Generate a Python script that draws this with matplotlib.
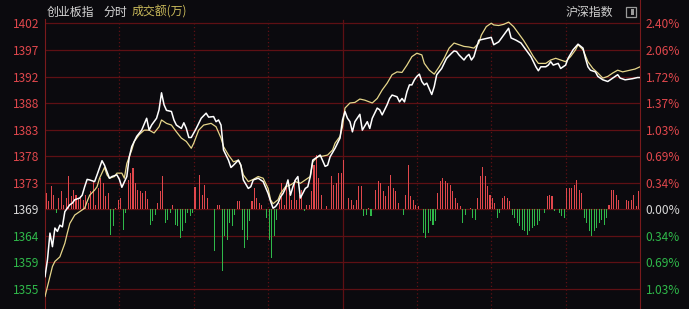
import matplotlib
matplotlib.use("Agg")
import matplotlib.pyplot as plt
import numpy as np
from matplotlib.patches import Rectangle

plt.rcParams["font.family"] = ["Noto Sans CJK SC", "DejaVu Sans"]

# ── data ─────────────────────────────────────────────
prev_close = 1368.8          # 昨收
pct_step = 2.40 / 7          # one grid row, in %

left_labels = ["1355", "1359", "1364", "1369", "1373", "1378",
               "1383", "1388", "1392", "1397", "1402"]
right_labels = ["1.03%", "0.69%", "0.34%", "0.00%", "0.34%", "0.69%",
                "1.03%", "1.37%", "1.72%", "2.06%", "2.40%"]

# 创业板指 (white line): minute, index value
white_min = [0, 1, 2, 3, 4, 5, 6, 7, 8, 10, 11, 12, 14, 15, 16, 17, 18, 20, 21, 23,
             24, 26, 27, 29, 30, 31, 33, 34, 35, 37, 39, 41, 42, 43, 45, 46, 47, 48, 49, 51,
             52, 53, 55, 56, 57, 58, 59, 61, 62, 63, 65, 66, 68, 69, 70, 71, 72, 73, 74, 75,
             76, 78, 79, 80, 82, 83, 84, 86, 87, 88, 90, 91, 92, 93, 94, 95, 96, 97, 98, 99,
             100, 101, 102, 103, 105, 106, 107, 108, 110, 111, 113, 114, 115, 117, 118, 119, 120,
             121, 122, 123, 124, 125, 127, 128, 130, 131, 132, 134, 135, 136, 138, 139, 140,
             142, 143, 144, 145, 146, 147, 148, 149, 150, 151, 152, 153, 154, 156, 157, 158,
             160, 161, 162, 164, 165, 166, 167, 169, 170, 171, 172, 173, 174, 175, 177, 178,
             180, 181, 183, 185, 187, 188, 190, 192, 194, 196, 198, 199, 200, 202, 203, 204,
             205, 207, 208, 210, 211, 213, 215, 217, 218, 219, 220, 222, 223, 225, 227, 229,
             231, 232, 234, 237, 239, 240]
white_val = [1356.9, 1359.9, 1364.6, 1362.2, 1365.5, 1364.9, 1366.0, 1365.7, 1368.4, 1369.6,
             1369.9, 1370.5, 1370.8, 1371.3, 1372.8, 1374.1, 1374.0, 1373.7, 1374.9, 1377.4,
             1376.6, 1374.3, 1374.6, 1374.9, 1374.1, 1372.7, 1374.6, 1378.1, 1379.9, 1381.7,
             1382.8, 1384.9, 1382.8, 1383.7, 1384.9, 1386.4, 1389.4, 1387.3, 1386.3, 1386.1,
             1384.6, 1383.7, 1383.1, 1384.1, 1383.1, 1381.5, 1381.5, 1383.1, 1384.0, 1384.9,
             1385.8, 1385.1, 1385.2, 1384.3, 1384.6, 1383.7, 1379.3, 1378.4, 1377.5, 1376.2,
             1376.6, 1377.5, 1376.6, 1374.0, 1372.5, 1372.8, 1374.0, 1374.3, 1374.0, 1373.7,
             1371.6, 1370.2, 1369.0, 1369.3, 1369.9, 1371.0, 1371.6, 1372.5, 1374.0, 1371.3,
             1372.8, 1374.0, 1374.6, 1370.8, 1372.5, 1372.8, 1374.6, 1377.5, 1378.1, 1378.4,
             1376.4, 1376.6, 1378.1, 1379.6, 1380.5, 1381.4, 1384.6,
             1386.1, 1384.9, 1384.3, 1382.5, 1384.3, 1385.6, 1382.8, 1384.3, 1383.1, 1384.9,
             1386.7, 1386.4, 1385.5, 1387.3, 1388.4, 1389.0,
             1388.7, 1387.8, 1388.4, 1387.8, 1389.6, 1390.8, 1390.8, 1391.7, 1392.3, 1392.7,
             1391.4, 1390.8, 1391.1, 1389.1, 1390.5, 1392.6,
             1393.7, 1394.6, 1395.5, 1396.4, 1396.8, 1396.7, 1396.1, 1395.2, 1395.8, 1396.2,
             1395.2, 1395.8, 1397.3, 1398.7, 1398.9, 1399.0,
             1399.2, 1397.9, 1398.4, 1399.6, 1400.8, 1399.1, 1398.7, 1398.2, 1397.0, 1395.8,
             1394.0, 1393.3, 1394.0, 1394.0, 1394.3, 1394.9,
             1394.3, 1394.6, 1393.7, 1394.3, 1395.5, 1397.0, 1398.0, 1397.3, 1395.5, 1394.0,
             1393.4, 1393.1, 1392.3, 1391.7, 1391.4, 1392.0,
             1392.6, 1392.0, 1391.7, 1391.9, 1392.1, 1392.1]

# 沪深指数 / leading line (yellow)
yellow_min = [0, 2, 3, 4, 6, 7, 8, 9, 10, 12, 13, 14, 16, 17, 18, 20, 21, 22, 24, 25,
              26, 28, 29, 31, 32, 33, 35, 36, 38, 40, 42, 44, 46, 47, 49, 51, 53, 55, 57, 59,
              60, 62, 64, 67, 69, 71, 72, 74, 76, 78, 79, 80, 82, 84, 86, 88, 90, 91, 92, 94,
              95, 97, 99, 101, 103, 105, 107, 108, 110, 112, 114, 116, 117, 119, 120,
              121, 123, 125, 127, 129, 132, 134, 136, 138, 140, 142, 144, 146, 148, 150, 152,
              153, 155, 157, 159, 161, 163, 165, 167, 169, 171, 173, 175, 176, 178, 180, 181,
              183, 185, 187, 189, 191, 193, 195, 197, 199, 202, 204, 206, 208, 210, 212, 214,
              215, 217, 219, 221, 223, 225, 227, 229, 231, 233, 235, 238, 240]
yellow_val = [1353.4, 1356.9, 1358.7, 1359.6, 1360.4, 1361.6, 1362.8, 1364.6, 1366.3, 1367.8,
              1368.1, 1368.4, 1369.0, 1370.2, 1371.3, 1372.2, 1372.8, 1374.3, 1376.2, 1374.9,
              1374.3, 1374.6, 1375.2, 1375.2, 1374.3, 1376.9, 1379.3, 1380.8, 1382.0, 1382.8,
              1382.8, 1382.3, 1383.4, 1384.6, 1384.0, 1383.7, 1382.5, 1381.4, 1380.8, 1379.6,
              1380.5, 1382.8, 1383.7, 1384.0, 1383.4, 1381.4, 1379.9, 1378.4, 1377.2, 1377.5,
              1376.6, 1374.9, 1373.7, 1374.1, 1374.6, 1374.3, 1372.5, 1370.5, 1369.8, 1370.5,
              1371.6, 1372.8, 1373.1, 1373.7, 1373.4, 1374.0, 1374.6, 1377.2, 1378.1, 1378.2,
              1378.4, 1379.3, 1380.5, 1381.7, 1383.4,
              1386.7, 1387.6, 1387.7, 1388.3, 1388.1, 1387.6, 1388.4, 1389.9, 1391.1, 1392.6,
              1393.1, 1393.0, 1394.3, 1395.8, 1396.4, 1396.1,
              1394.6, 1393.4, 1392.7, 1394.0, 1395.5, 1397.3, 1398.2, 1397.9, 1397.6, 1397.5,
              1397.3, 1398.2, 1399.6, 1401.1, 1401.7, 1401.4,
              1401.3, 1401.5, 1401.9, 1401.1, 1399.9, 1398.7, 1397.3, 1395.8, 1394.6, 1394.6,
              1395.2, 1395.5, 1395.2, 1394.9, 1395.8, 1397.0,
              1397.9, 1397.0, 1394.9, 1393.7, 1392.9, 1392.0, 1392.3, 1392.9, 1393.4, 1393.1,
              1393.3, 1393.6, 1394.0]

# red/green bars, one per minute (positive = red, negative = green)
bar_val = [16, 8, 23, 14, -4, 11, 18, 4, 11, 33, 13, 19, 14, 11, 13, 9, 14, 6, 18, 28,
           4, 21, 31, 26, 13, 16, -26, -17, 1, 9, 11, -21, -4, 29, 36, 41, 26, 19, 18, 16,
           18, 10, -16, -12, -6, 6, 18, 33, -14, -11, -4, 4, -16, -17, -29, -22, -14, -4, -7, -4,
           22, 0, 34, 14, 24, 11, 0, 0, -42, 4, 4, -62, -27, -31, -14, -17, -6, 8, 8, -21,
           -39, -31, -12, 8, 21, 11, 6, 4, 0, -9, -31, -49, -27, -11, 6, 26, 4, 23, 16, 9,
           29, 9, 14, 19, -2, 4, 4, 18, 44, 54, 31, 14, 0, 3, 0, 33, 24, 26, 36, 36,
           49, 0, 11, 9, 4, 9, 23, 23, -7, -6, 1, -7, 0, 19, 28, 26, 18, 13, 23, 34,
           21, 18, 6, 0, -6, 14, 44, 13, 9, 4, 3, 0, -24, -29, -24, -12, -16, -12, 16, 28,
           31, 28, 26, 24, 18, 11, 6, 3, -14, -6, 0, 1, -9, -11, 11, 33, 42, 33, 23, 14,
           11, 6, -9, -4, 11, 13, 11, 8, -6, -9, -14, -17, -21, -22, -26, -22, -19, -17, -16, -12,
           0, -4, 13, 14, 13, -2, 0, -4, -7, -9, 21, 21, 21, 24, 29, 19, 16, -9, -14, -22,
           -27, -22, -19, -14, -11, -16, -9, 4, 19, 19, 14, 9, 0, 0, 9, 8, 9, 14, 3, 18]

# ── colours ──────────────────────────────────────────
BG = "#0b0a0e"
GRID = "#5e1014"
UP = "#e0474c"
DOWN = "#2fb84a"
FLAT = "#d8d8d8"

W, H = 689, 309
fig = plt.figure(figsize=(W / 100, H / 100), dpi=100, facecolor=BG)
ax = fig.add_axes([45 / W, 0, 595 / W, 1])
ax.set_facecolor(BG)

# y range in % change; grid row is 26.55 px, 2.40% line sits 23.5 px from top
row_px = 26.55
y_top = 2.40 + 23.5 / row_px * pct_step
y_bot = 2.40 - (H - 23.5) / row_px * pct_step
ax.set_xlim(0, 240)
ax.set_ylim(y_bot, y_top)

ticks = [k * pct_step for k in range(-3, 8)]
for t in ticks:
    ax.axhline(t, color=GRID, lw=0.9, zorder=1)
top_frac = (H - 20) / H
for m in range(30, 240, 30):
    if m == 120:
        ax.axvline(m, ymax=top_frac, color=GRID, lw=0.9, zorder=1)
    else:
        ax.axvline(m, ymax=top_frac, color=GRID, lw=0.9, ls=(0, (1, 2)), zorder=1)

# ── bars on their own scale, zero aligned with prev close ─────
axb = ax.twinx()
zero_frac = (0 - y_bot) / (y_top - y_bot)
axb.set_ylim(-zero_frac * H, (1 - zero_frac) * H)
bx = np.arange(len(bar_val)) + 0.5
bv = np.array(bar_val)
axb.bar(bx, bv, width=0.42, color=np.where(bv >= 0, UP, DOWN), zorder=2)
axb.axis("off")

# ── lines ────────────────────────────────────────────
to_pct = lambda v: (np.array(v) / prev_close - 1) * 100
axl = ax.twinx()
axl.set_ylim(y_bot, y_top)
axl.axis("off")
axl.plot(yellow_min, to_pct(yellow_val), color="#e6d68a", lw=0.9, zorder=3)
axl.plot(white_min, to_pct(white_val), color="#ffffff", lw=1.1, zorder=4)

# ── axes / labels ────────────────────────────────────
for s in ["top", "bottom"]:
    ax.spines[s].set_visible(False)
ax.spines["left"].set_color("#7a1a1c")
ax.spines["right"].set_color("#7a1a1c")
ax.spines["left"].set_bounds(y_bot, y_top - 19 / row_px * pct_step)
ax.set_xticks([])

def label_color(i):
    return UP if i > 3 else (DOWN if i < 3 else FLAT)

ax.set_yticks(ticks)
ax.set_yticklabels(left_labels, fontsize=8.6)
ax.tick_params(axis="y", length=0, pad=4)
for i, lab in enumerate(ax.get_yticklabels()):
    lab.set_color(label_color(i))

sec = ax.secondary_yaxis("right")
sec.spines["right"].set_visible(False)
sec.set_yticks(ticks)
sec.set_yticklabels(right_labels, fontsize=8.6)
sec.tick_params(axis="y", length=0, pad=4)
for i, lab in enumerate(sec.get_yticklabels()):
    lab.set_color(label_color(i))

# header texts
fig.text(47 / W, 1 - 12 / H, "创业板指", color="#d6d6d6", fontsize=8.6, va="center")
fig.text(104 / W, 1 - 12 / H, "分时", color="#d6d6d6", fontsize=8.6, va="center")
fig.text(132 / W, 1 - 12 / H, "成交额(万)", color="#c9b95a", fontsize=8.6, va="center")
fig.text(566 / W, 1 - 12 / H, "沪深指数", color="#cfcfcf", fontsize=8.6, va="center")

# small toggle icon
fig.patches.append(Rectangle((626 / W, 1 - 17 / H), 10 / W, 10 / H, transform=fig.transFigure,
                             fill=False, edgecolor="#9a9a9a", lw=0.9))
fig.patches.append(Rectangle((631 / W, 1 - 15 / H), 3 / W, 6 / H, transform=fig.transFigure,
                             color="#9a9a9a", lw=0))

fig.savefig("out.png", dpi=100, facecolor=BG)
